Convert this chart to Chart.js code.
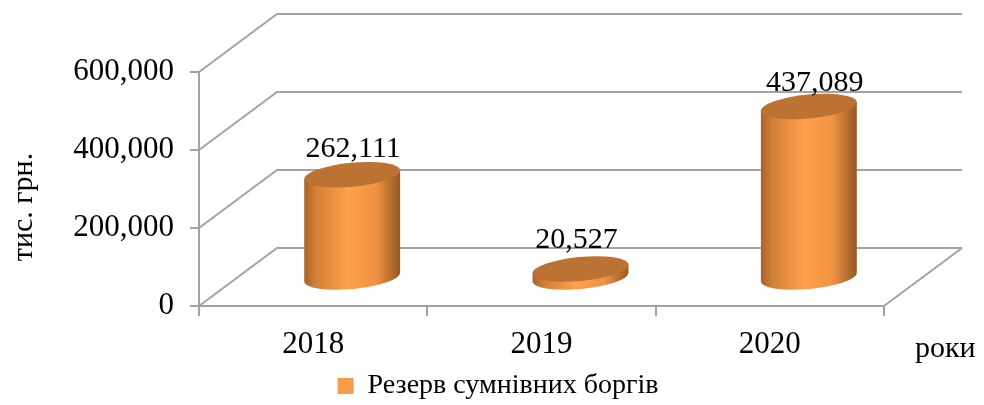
<!DOCTYPE html>
<html lang="uk">
<head>
    <meta charset="UTF-8">
    <title>Резерв сумнівних боргів</title>
    <script src="https://cdn.jsdelivr.net/npm/chart.js"></script>
    <style>
        html, body { margin: 0; padding: 0; background: #fff; overflow: hidden; }
        canvas { display: block; }
    </style>
</head>
<body>
    <canvas id="reserveChart" width="984" height="405"></canvas>
    <script>
        const years = ['2018', '2019', '2020'];
        const reserve = [262111, 20527, 437089];
        const seriesName = 'Резерв сумнівних боргів';
        const yTitle = 'тис. грн.';
        const xTitle = 'роки';

        const fontName = '"Liberation Serif", "Times New Roman", serif';
        const gridColor = '#a3a3a3';
        // depth of the fake 3D box
        const depthX = 78, depthY = -58;
        // cylinders stand in the middle of the depth
        const midX = depthX / 2, midY = depthY / 2;
        const tilt = -5.4 * Math.PI / 180;
        const capHeight = 12;
        const labelShift = [[1, -26], [-4, -29], [6, -23]];

        const box3d = {
            id: 'box3d',
            afterLayout(chart) {
                // legend sits right of centre in the original
                chart.legend.left += 56;
                chart.legend.right += 56;
                chart.legend.top += 5;
                chart.legend.bottom += 5;
            },
            beforeDatasetsDraw(chart) {
                const { ctx, chartArea: a, scales: { y } } = chart;
                ctx.save();
                ctx.strokeStyle = gridColor;
                ctx.lineWidth = 2;
                y.ticks.forEach(t => {
                    const py = y.getPixelForValue(t.value);
                    ctx.beginPath();
                    ctx.moveTo(a.left, py);
                    ctx.lineTo(a.left + depthX, py + depthY);
                    ctx.lineTo(a.right + depthX, py + depthY);
                    ctx.stroke();
                });
                ctx.beginPath();
                ctx.moveTo(a.right, a.bottom);
                ctx.lineTo(a.right + depthX, a.bottom + depthY);
                ctx.stroke();
                ctx.restore();
            },
            afterDatasetsDraw(chart) {
                const { ctx, scales: { y } } = chart;
                const bars = chart.getDatasetMeta(0).data;
                bars.forEach((bar, i) => {
                    const cx = bar.x + midX;
                    const top = bar.y + midY;
                    const base = y.getPixelForValue(0) + midY;
                    const rx = bar.width / 2 / Math.cos(tilt);
                    const dy = rx * Math.sin(tilt);
                    const left = cx - bar.width / 2;
                    const right = cx + bar.width / 2;

                    const grad = ctx.createLinearGradient(left, 0, right, 0);
                    grad.addColorStop(0, '#a8642a');
                    grad.addColorStop(0.12, '#d08038');
                    grad.addColorStop(0.45, '#ffa04a');
                    grad.addColorStop(0.75, '#f09243');
                    grad.addColorStop(1, '#945823');

                    ctx.save();
                    ctx.fillStyle = grad;
                    ctx.beginPath();
                    ctx.moveTo(left, top - dy);
                    ctx.lineTo(left, base - dy);
                    ctx.ellipse(cx, base, rx, capHeight, tilt, Math.PI, 0, true);
                    ctx.lineTo(right, top + dy);
                    ctx.closePath();
                    ctx.fill();

                    ctx.fillStyle = '#bc7233';
                    ctx.beginPath();
                    ctx.ellipse(cx, top, rx, capHeight, tilt, 0, Math.PI * 2);
                    ctx.fill();

                    ctx.fillStyle = '#000';
                    ctx.font = '30px ' + fontName;
                    ctx.textAlign = 'center';
                    ctx.textBaseline = 'middle';
                    ctx.fillText(reserve[i].toLocaleString('en-US'), cx + labelShift[i][0], top + labelShift[i][1]);
                    ctx.restore();
                });

                // axis captions
                ctx.save();
                ctx.fillStyle = '#000';
                ctx.font = '30px ' + fontName;
                ctx.textBaseline = 'middle';
                ctx.textAlign = 'left';
                ctx.fillText(xTitle, 915, 349);
                ctx.translate(24, 207);
                ctx.rotate(-Math.PI / 2);
                ctx.textAlign = 'center';
                ctx.fillText(yTitle, 0, 0);
                ctx.restore();
            }
        };

        new Chart(document.getElementById('reserveChart').getContext('2d'), {
            type: 'bar',
            data: {
                labels: years,
                datasets: [{
                    label: seriesName,
                    data: reserve,
                    backgroundColor: 'rgba(0,0,0,0)',
                    categoryPercentage: 1,
                    barPercentage: 0.42
                }]
            },
            options: {
                responsive: false,
                animation: false,
                layout: { padding: { top: 72, right: 100, left: 0, bottom: 0 } },
                plugins: {
                    tooltip: { enabled: false },
                    legend: {
                        position: 'bottom',
                        labels: {
                            font: { family: fontName, size: 28 },
                            color: '#000',
                            boxWidth: 16,
                            boxHeight: 16,
                            padding: 6,
                            generateLabels: () => [{
                                text: seriesName,
                                fillStyle: '#fb9a4a',
                                strokeStyle: '#fb9a4a',
                                lineWidth: 0
                            }]
                        }
                    }
                },
                scales: {
                    x: {
                        afterFit: s => { s.height = 55; },
                        grid: { color: gridColor, lineWidth: 2, drawOnChartArea: false, tickLength: 10 },
                        border: { color: gridColor, width: 2 },
                        ticks: { color: '#000', font: { family: fontName, size: 31 }, padding: 10, maxRotation: 0 }
                    },
                    y: {
                        min: 0,
                        max: 600000,
                        afterFit: s => { s.width = 199; },
                        grid: { color: gridColor, lineWidth: 2, drawOnChartArea: false, tickLength: 9 },
                        border: { color: gridColor, width: 2 },
                        ticks: {
                            stepSize: 200000,
                            color: '#000',
                            font: { family: fontName, size: 31 },
                            padding: 16,
                            callback: v => v.toLocaleString('en-US')
                        }
                    }
                }
            },
            plugins: [box3d]
        });
    </script>
</body>
</html>
